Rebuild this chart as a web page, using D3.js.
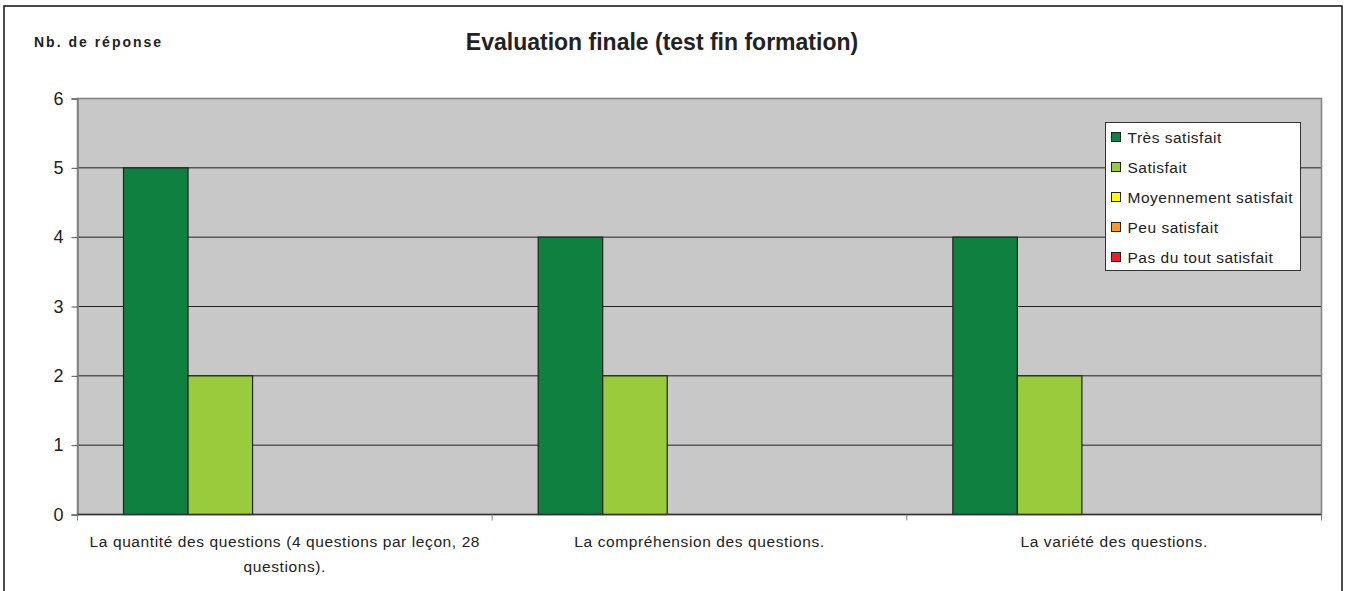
<!DOCTYPE html>
<html>
<head>
<meta charset="utf-8">
<script src="https://cdn.jsdelivr.net/npm/d3@7"></script>
<style>
  body { margin: 0; background: #fff; }
  svg { display: block; font-family: "Liberation Sans", Arial, sans-serif; }
</style>
</head>
<body>
<div id="chart"></div>
<script>
const categories = [
  "La quantité des questions (4 questions par leçon, 28 questions).",
  "La compréhension des questions.",
  "La variété des questions."
];
const seriesNames = ["Très satisfait", "Satisfait", "Moyennement satisfait", "Peu satisfait", "Pas du tout satisfait"];
const seriesColors = ["#108040", "#99cc3c", "#ffff00", "#ff9922", "#ee1c24"];
const tresSatisfait = [5, 4, 4];
const satisfait = [2, 2, 2];
const moyennement = [0, 0, 0];
const peuSatisfait = [0, 0, 0];
const pasDuTout = [0, 0, 0];
const yTicks = [0, 1, 2, 3, 4, 5, 6];

const allSeries = [tresSatisfait, satisfait, moyennement, peuSatisfait, pasDuTout];

const width = 1349;
const height = 591;
const margin = {top: 98.5, right: 27.5, bottom: 76.5, left: 77.5};
const innerWidth = width - margin.left - margin.right;
const innerHeight = height - margin.top - margin.bottom;

const svg = d3.select('#chart').append('svg')
  .attr('width', width)
  .attr('height', height);

// outer frame (bottom edge falls outside the picture)
svg.append('path')
  .attr('d', `M4,${height} V6 H1342 V${height}`)
  .attr('fill', 'none')
  .attr('stroke', '#111')
  .attr('stroke-width', 1.5);

svg.append('text')
  .attr('x', 662).attr('y', 50)
  .attr('text-anchor', 'middle')
  .style('font-size', '23px')
  .style('font-weight', 'bold')
  .attr('fill', '#222')
  .text('Evaluation finale (test fin formation)');

svg.append('text')
  .attr('x', 34).attr('y', 47)
  .style('font-size', '14px')
  .style('font-weight', 'bold')
  .style('letter-spacing', '2px')
  .attr('fill', '#222')
  .text('Nb. de réponse');

const g = svg.append('g')
  .attr('transform', `translate(${margin.left},${margin.top})`);

const xScale = d3.scaleBand()
  .domain(categories)
  .range([0, innerWidth])
  .paddingInner(0)
  .paddingOuter(0);

// 5 bars per group + 1.43 bar widths of gap
const xSub = d3.scaleBand()
  .domain(d3.range(seriesNames.length))
  .range([0, xScale.bandwidth()])
  .paddingInner(0)
  .paddingOuter(0.713);

const yScale = d3.scaleLinear()
  .domain([0, 6])
  .range([innerHeight, 0]);

g.append('rect')
  .attr('width', innerWidth)
  .attr('height', innerHeight)
  .attr('fill', '#c8c8c8');

// gridlines
g.append('g')
  .selectAll('line')
  .data(yTicks.filter(d => d > 0 && d < 6))
  .join('line')
  .attr('x1', 0).attr('x2', innerWidth)
  .attr('y1', d => yScale(d)).attr('y2', d => yScale(d))
  .attr('stroke', '#222')
  .attr('stroke-width', 1);

// plot border
g.append('rect')
  .attr('width', innerWidth)
  .attr('height', innerHeight)
  .attr('fill', 'none')
  .attr('stroke', '#808080')
  .attr('stroke-width', 1.5);

// bars
const groups = g.selectAll('.group')
  .data(categories)
  .join('g')
  .attr('class', 'group')
  .attr('transform', d => `translate(${xScale(d)},0)`);

groups.selectAll('rect')
  .data((c, ci) => allSeries.map((s, si) => ({si, v: s[ci]})).filter(d => d.v > 0))
  .join('rect')
  .attr('x', d => xSub(d.si))
  .attr('width', xSub.bandwidth())
  .attr('y', d => yScale(d.v))
  .attr('height', d => innerHeight - yScale(d.v))
  .attr('fill', d => seriesColors[d.si])
  .attr('stroke', '#222')
  .attr('stroke-width', 1.2);

// y axis
const yAxis = g.append('g')
  .call(d3.axisLeft(yScale).tickValues(yTicks).tickSize(6).tickPadding(8).tickFormat(d3.format('d')));
yAxis.select('.domain').attr('stroke', '#808080').attr('stroke-width', 1.5);
yAxis.selectAll('.tick line').attr('stroke', '#555');
yAxis.selectAll('.tick text')
  .style('font-size', '18px')
  .attr('fill', '#222');

// x axis
const xAxis = g.append('g')
  .attr('transform', `translate(0,${innerHeight})`);
xAxis.append('line')
  .attr('x1', 0).attr('x2', innerWidth)
  .attr('stroke', '#333').attr('stroke-width', 1.5);
xAxis.selectAll('.xtick')
  .data(d3.range(categories.length + 1))
  .join('line')
  .attr('class', 'xtick')
  .attr('x1', i => i * xScale.step()).attr('x2', i => i * xScale.step())
  .attr('y1', 0).attr('y2', 6)
  .attr('stroke', '#808080');

const labels = xAxis.selectAll('.xlabel')
  .data(categories)
  .join('text')
  .attr('class', 'xlabel')
  .attr('text-anchor', 'middle')
  .attr('x', d => xScale(d) + xScale.bandwidth() / 2)
  .attr('y', 32)
  .style('font-size', '15.5px')
  .style('letter-spacing', '0.6px')
  .attr('fill', '#222');

labels.each(function(d) {
  const t = d3.select(this);
  const words = d.split(' ');
  let line = [];
  let tspan = t.append('tspan').attr('x', t.attr('x')).attr('dy', 0);
  words.forEach(w => {
    line.push(w);
    tspan.text(line.join(' '));
    if (tspan.node().getComputedTextLength() > 405 && line.length > 1) {
      line.pop();
      tspan.text(line.join(' '));
      line = [w];
      tspan = t.append('tspan').attr('x', t.attr('x')).attr('dy', 25).text(w);
    }
  });
});

// legend
const legend = svg.append('g')
  .attr('transform', 'translate(1105.5,122.5)');
legend.append('rect')
  .attr('width', 195).attr('height', 148)
  .attr('fill', '#fff')
  .attr('stroke', '#333')
  .attr('stroke-width', 1);

const items = legend.selectAll('.item')
  .data(seriesNames)
  .join('g')
  .attr('class', 'item')
  .attr('transform', (d, i) => `translate(6,${14.5 + i * 30})`);
items.append('rect')
  .attr('x', 0).attr('y', -4.5)
  .attr('width', 9).attr('height', 9)
  .attr('fill', (d, i) => seriesColors[i])
  .attr('stroke', '#222');
items.append('text')
  .attr('x', 16).attr('y', 5.5)
  .style('font-size', '15.5px')
  .style('letter-spacing', '0.5px')
  .attr('fill', '#222')
  .text(d => d);
</script>
</body>
</html>
